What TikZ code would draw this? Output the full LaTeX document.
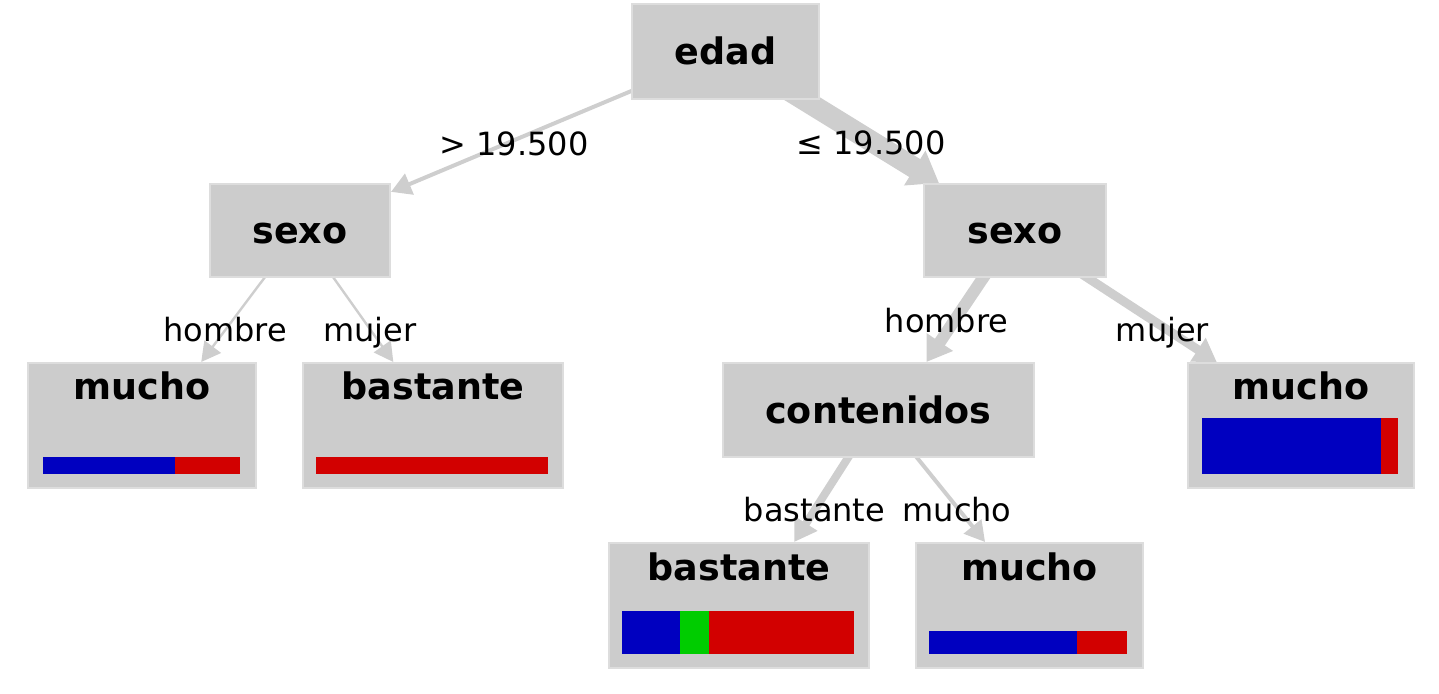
\documentclass[tikz,border=0pt]{standalone}
\usepackage{fontspec}
\setmainfont{DejaVu Sans}
\usepackage{tikz}
\usetikzlibrary{arrows.meta, backgrounds}
\definecolor{nodegray}{HTML}{CCCCCC}
\definecolor{boxline}{HTML}{DDDDDD}
\definecolor{edgegray}{HTML}{CECECE}
\definecolor{cblue}{HTML}{0000C0}
\definecolor{cred}{HTML}{D20000}
\definecolor{cgreen}{HTML}{00CC00}

\begin{document}
\begin{tikzpicture}[x=0.5pt, y=-0.5pt,
  box/.style={fill=nodegray, draw=boxline, line width=1pt, inner sep=0pt,
    font=\fontsize{18.25pt}{22pt}\selectfont\bfseries, text height=13.5pt, text depth=0pt},
  leaf/.style={box, text height=18.5pt, text depth=44pt},
  edge/.style={draw=edgegray, -{Triangle[length=9pt 0.5, width=9pt 1]}},
  cond/.style={font=\fontsize{16pt}{19pt}\selectfont, inner sep=0pt, anchor=base}]
  \useasboundingbox (0,0) rectangle (1439,694);

  \node[box, minimum width=93.5pt, minimum height=47.5pt] (edad) at (725.5,51.5) {edad};
  \node[box, minimum width=90pt, minimum height=46.5pt] (sexoL) at (300,230.5) {sexo};
  \node[box, minimum width=91pt, minimum height=46.5pt] (sexoR) at (1015,230.5) {sexo};
  \node[leaf, minimum width=114pt] (muchoL) at (142,425.5) {mucho};
  \node[leaf, minimum width=130pt] (bastanteL) at (433,425.5) {bastante};
  \node[box, minimum width=155.5pt, minimum height=47pt] (contenidos) at (878.5,410) {contenidos};
  \node[leaf, minimum width=113pt] (muchoR) at (1301,425.5) {mucho};
  \node[leaf, minimum width=130pt] (bastanteC) at (739,605.5) {bastante};
  \node[leaf, minimum width=113.5pt] (muchoC) at (1029.5,605.5) {mucho};

  \foreach \xa/\xb/\ya/\yb/\col in {43/175/457/474/cblue, 175/240/457/474/cred,
      316/548/457/474/cred, 1202/1381/418/474/cblue, 1381/1398/418/474/cred,
      622/680/611/654/cblue, 680/709/611/654/cgreen, 709/854/611/654/cred,
      929/1077/631/654/cblue, 1077/1127/631/654/cred}{
    \fill[\col] (\xa,\ya) rectangle (\xb,\yb);
  }

  \begin{scope}[on background layer]
    \draw[edge, line width=2pt] (edad.center) -- (sexoL.23);
    \draw[edge, line width=10.5pt] (edad.center) -- (sexoR.148);
    \draw[edge, line width=1.2pt] (sexoL.center) -- (muchoL.47);
    \draw[edge, line width=1.2pt] (sexoL.center) -- (bastanteL.122);
    \draw[edge, line width=6pt] (sexoR.center) -- (contenidos.45);
    \draw[edge, line width=4.5pt] (sexoR.center) -- (muchoR.143);
    \draw[edge, line width=4pt] (contenidos.center) -- (bastanteC.49);
    \draw[edge, line width=2pt] (contenidos.center) -- (muchoC.125);
  \end{scope}

  \node[cond] (gt) at (514,156) {> 19.500};
  \node[cond] (le) at (871,155) {≤ 19.500};
  \node[cond] (hombreL) at (225,342) {hombre};
  \node[cond] (mujerL) at (370,342) {mujer};
  \node[cond] (hombreR) at (946.5,333) {hombre};
  \node[cond] (mujerR) at (1162.5,342) {mujer};
  \node[cond] (bastanteE) at (814.5,522) {bastante};
  \node[cond] (muchoE) at (957,522) {mucho};
\end{tikzpicture}
\end{document}
